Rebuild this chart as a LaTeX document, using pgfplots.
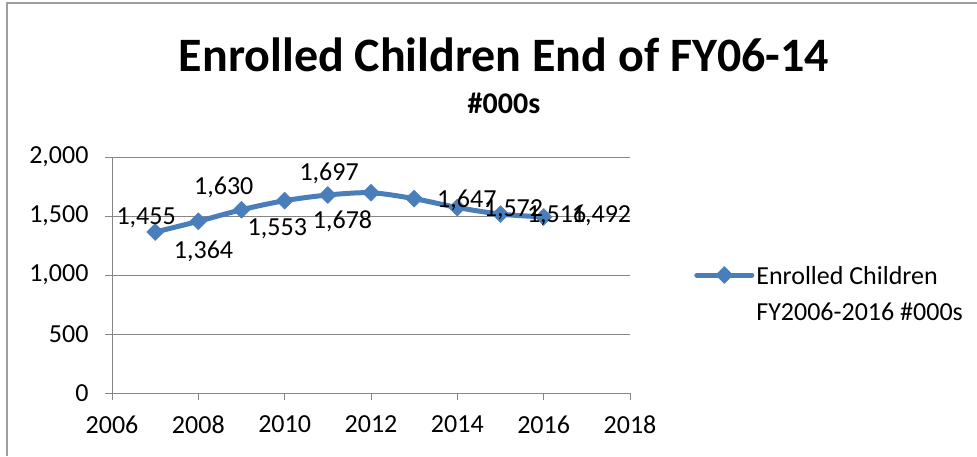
\documentclass[border=0pt]{standalone}
\usepackage{pgfplots}
\pgfplotsset{compat=1.18}
\usepackage{fontspec}
\setmainfont{Carlito}
\definecolor{exblue}{RGB}{74,126,187}
\definecolor{exgrid}{RGB}{134,134,134}
\pgfplotstableread{
x y
2007 1364
2008 1455
2009 1553
2010 1630
2011 1678
2012 1697
2013 1647
2014 1572
2015 1516
2016 1492
}\enrolled
\pgfplotstableread{
x y lab
2006.79 1424 1,455
2008.12 1144 1,364
2008.59 1678 1,630
2009.83 1339 1,553
2011.03 1805 1,697
2011.34 1398 1,678
2014.22 1576 1,647
2015.30 1492 1,572
2016.30 1449 1,516
2017.34 1441 1,492
}\labels
\begin{document}
\begin{tikzpicture}[x=1pt,y=1pt]
\path[use as bounding box] (0,0) rectangle (977,456);
\draw[exgrid!80, line width=2pt] (7,0) -- (7,453) -- (977,453);
\node[anchor=base, font=\fontsize{48}{56}\selectfont\bfseries] at (504,384) {Enrolled Children End of FY06-14};
\node[anchor=base, font=\fontsize{30}{36}\selectfont\bfseries] at (504,342) {\#000s};
\begin{axis}[
  at={(112pt,63pt)}, anchor=south west,
  scale only axis, width=518pt, height=236pt,
  xmin=2006, xmax=2018, ymin=0, ymax=2000,
  xtick={2006,2008,...,2018}, ytick={0,500,...,2000},
  axis lines*=left,
  ymajorgrids,
  grid style={exgrid, line width=1pt},
  axis line style={exgrid, line width=1pt},
  tick style={exgrid, line width=1pt},
  tick align=outside, major tick length=7pt,
  ticklabel style={font=\fontsize{26}{30}\selectfont},
  /pgf/number format/assume math mode=true,
  y tick label style={/pgf/number format/1000 sep={,}, xshift=-13pt},
  x tick label style={/pgf/number format/1000 sep={}, yshift=-12pt},
  clip=false,
  legend style={at={(axis description cs:1.118,0.50)}, anchor=west, draw=none,
    font=\fontsize{26}{30}\selectfont, fill=none},
  legend cell align=left,
  legend image code/.code={\draw[mark repeat=2, mark phase=2, #1] plot coordinates {(0pt,0pt) (27.5pt,0pt) (55pt,0pt)};},
]
\addplot[exblue, line width=5pt, smooth, line join=round, line cap=round,
  mark=square*, mark size=6pt, mark options={rotate=45, line width=0.5pt, fill=exblue}]
  table[x=x, y=y] {\enrolled};
\addlegendentry{\begin{tabular}[t]{@{}l@{}}Enrolled Children\\[6pt]FY2006-2016 \#000s\end{tabular}}
\addplot[draw=none, mark=none, nodes near coords, point meta=explicit symbolic,
  every node near coord/.style={anchor=base, font=\fontsize{26}{30}\selectfont, text=black, inner sep=0pt}]
  table[x=x, y=y, meta=lab] {\labels};
\end{axis}
\end{tikzpicture}
\end{document}
